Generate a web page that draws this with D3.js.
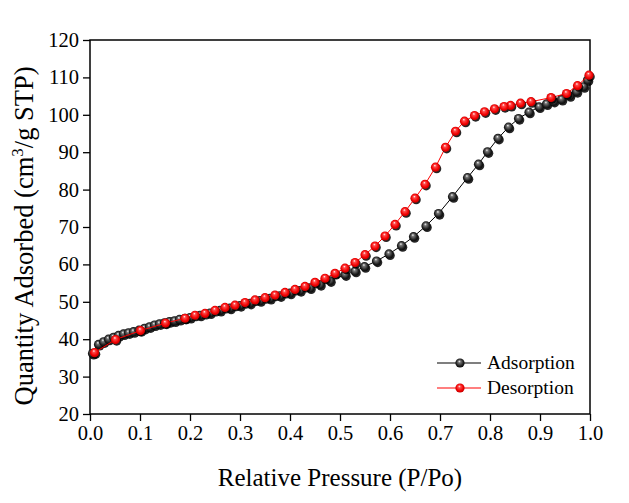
<!DOCTYPE html>
<html><head><meta charset="utf-8">
<script src="https://cdn.jsdelivr.net/npm/d3@7/dist/d3.min.js"></script>
<style>body{margin:0;background:#fff}svg{display:block}</style>
</head><body>
<script>
const xTicks = [0,0.1,0.2,0.3,0.4,0.5,0.6,0.7,0.8,0.9,1.0];
const yTicks = [20,30,40,50,60,70,80,90,100,110,120];
const adsX = [0.005,0.017,0.027,0.037,0.047,0.057,0.067,0.077,0.087,0.098,0.109,0.119,0.129,0.139,0.149,0.159,0.169,0.179,0.19,0.20,0.22,0.24,0.26,0.28,0.30,0.32,0.34,0.36,0.38,0.40,0.42,0.44,0.46,0.48,0.51,0.53,0.549,0.573,0.598,0.623,0.647,0.672,0.697,0.725,0.755,0.777,0.795,0.816,0.837,0.857,0.878,0.898,0.913,0.927,0.943,0.959,0.973,0.987,0.995];
const adsY = [36.2,38.6,39.3,40.0,40.5,41.0,41.4,41.7,42.0,42.4,42.9,43.3,43.8,44.1,44.4,44.7,44.9,45.3,45.6,45.8,46.4,47.0,47.7,48.3,49.0,49.6,50.3,50.9,51.6,52.3,53.0,53.7,54.6,55.6,57.2,58.2,59.4,60.9,62.8,65.0,67.4,70.3,73.6,78.1,83.2,86.8,90.1,93.7,96.7,99.0,100.7,102.1,102.9,103.6,104.1,105.1,106.2,107.5,109.3];
const desX = [0.998,0.975,0.953,0.922,0.882,0.861,0.841,0.828,0.809,0.789,0.769,0.749,0.731,0.711,0.691,0.670,0.650,0.630,0.610,0.590,0.570,0.550,0.530,0.510,0.490,0.470,0.450,0.430,0.410,0.390,0.370,0.350,0.330,0.310,0.290,0.270,0.250,0.230,0.210,0.190,0.151,0.101,0.051,0.009];
const desY = [110.6,107.8,105.7,104.6,103.5,103.1,102.5,102.2,101.6,100.8,99.8,98.3,95.6,91.3,86.0,81.4,77.7,74.1,70.7,67.6,64.9,62.6,60.5,59.0,57.6,56.3,55.2,54.1,53.3,52.5,51.8,51.1,50.5,49.8,49.1,48.5,47.7,46.9,46.4,45.6,44.3,42.3,39.9,36.4];
const seriesNames = ["Adsorption","Desorption"];

const W=629,H=503, L=90,R=590,T=40,B=414;
const svg=d3.select("body").append("svg").attr("width",W).attr("height",H);
const defs=svg.append("defs");
function grad(id,c0,c1,c2){
  const g=defs.append("radialGradient").attr("id",id).attr("cx","0.5").attr("cy","0.5").attr("r","0.55").attr("fx","0.42").attr("fy","0.3");
  g.append("stop").attr("offset","0").attr("stop-color","#fff");
  g.append("stop").attr("offset","0.25").attr("stop-color",c0);
  g.append("stop").attr("offset","0.7").attr("stop-color",c1);
  g.append("stop").attr("offset","1").attr("stop-color",c2);
}
grad("gk","#777","#222","#000");
grad("gr","#ff4a4a","#f00000","#b00000");

const x=d3.scaleLinear().domain([0,1]).range([L,R]);
const y=d3.scaleLinear().domain([20,120]).range([B,T]);
const font="'Liberation Serif','Times New Roman',serif";

const xa=svg.append("g").attr("transform",`translate(0,${B})`).call(d3.axisBottom(x).tickValues(xTicks).tickSize(7).tickPadding(4).tickFormat(d3.format(".1f")));
const ya=svg.append("g").attr("transform",`translate(${L},0)`).call(d3.axisLeft(y).tickValues(yTicks).tickSize(7).tickPadding(4).tickFormat(d3.format("d")));
[xa,ya].forEach(a=>{a.select(".domain").remove();a.selectAll("line").attr("stroke","#000").attr("stroke-width",1.3);
 a.selectAll("text").attr("font-family",font).attr("font-size",20.5).attr("fill","#000");});
svg.append("rect").attr("x",L).attr("y",T).attr("width",R-L).attr("height",B-T).attr("fill","none").attr("stroke","#000").attr("stroke-width",1.5);

const line=d3.line().x(d=>x(d[0])).y(d=>y(d[1]));
const ads=adsX.map((v,i)=>[v,adsY[i]]);
const des=desX.map((v,i)=>[v,desY[i]]);
function drawSeries(data,col,gid){
  svg.append("path").datum(data).attr("d",line).attr("fill","none").attr("stroke",col).attr("stroke-width",1);
  const g=svg.append("g");
  g.selectAll("circle.s").data(data).join("circle").attr("cx",d=>x(d[0])+1.2).attr("cy",d=>y(d[1])+1.5).attr("r",4.6).attr("fill","#000").attr("opacity",0.85);
  g.selectAll("circle.m").data(data).join("circle").attr("cx",d=>x(d[0])).attr("cy",d=>y(d[1])).attr("r",4.6).attr("fill",`url(#${gid})`);
}
drawSeries(ads,"#000","gk");
drawSeries(des,"#ff0000","gr");

const lg=svg.append("g");
[[363,"#000","gk"],[388,"#ff0000","gr"]].forEach((p,i)=>{
  lg.append("line").attr("x1",437).attr("x2",481).attr("y1",p[0]).attr("y2",p[0]).attr("stroke",p[1]).attr("stroke-width",1.2);
  lg.append("circle").attr("cx",460).attr("cy",p[0]).attr("r",4.6).attr("fill",`url(#${p[2]})`);
  lg.append("text").attr("x",487).attr("y",p[0]+6).attr("font-family",font).attr("font-size",19.5).text(seriesNames[i]);
});

svg.append("text").attr("x",(L+R)/2).attr("y",486).attr("text-anchor","middle").attr("font-family",font).attr("font-size",25).text("Relative Pressure (P/Po)");
const yt=svg.append("text").attr("transform",`translate(33,236) rotate(-90)`).attr("text-anchor","middle").attr("font-family",font).attr("font-size",26.5);
yt.append("tspan").text("Quantity Adsorbed (cm");
yt.append("tspan").attr("dy",-10).attr("font-size",17).text("3");
yt.append("tspan").attr("dy",10).text("/g STP)");
</script>
</body></html>
